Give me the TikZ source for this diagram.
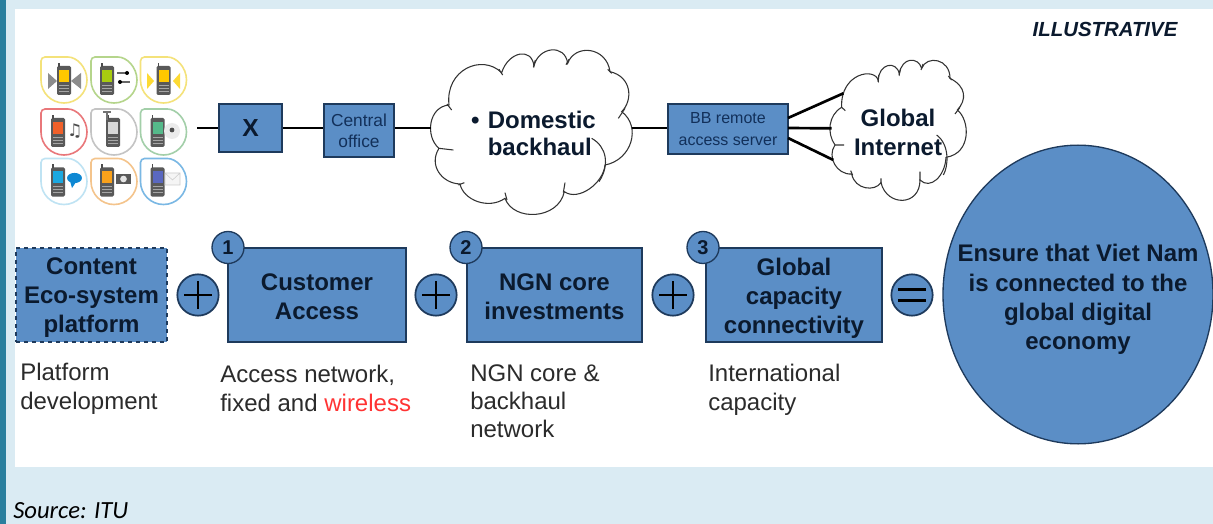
\documentclass[tikz,border=0pt]{standalone}
\usepackage{fontspec}
\setmainfont{Liberation Sans}
\newfontfamily\sourcefont{Carlito}
\newfontfamily\symbfont{DejaVu Sans}
\usetikzlibrary{shapes.geometric}

\definecolor{boxblue}{HTML}{5B8EC6}
\definecolor{boxline}{HTML}{1E3A5C}
\definecolor{boxtext}{HTML}{0B1A2E}
\definecolor{smalltext}{HTML}{12305A}
\definecolor{pagebg}{HTML}{DAEBF3}
\definecolor{pagebar}{HTML}{2A7F9E}
\definecolor{labeltext}{HTML}{2B2B2B}

\tikzset{
  blue box/.style 2 args={draw=boxline,line width=1.3pt,fill=boxblue,inner sep=0pt,align=center,text=boxtext,
    minimum width=#1*0.75pt,minimum height=#2*0.75pt},
  big/.style={align=center,text=boxtext,font=\fontsize{18}{21.5}\selectfont\bfseries},
  wire/.style={line width=2pt,black},
  wolk/.style={draw=black!80,line width=0.8pt},
  sign/.style={circle,draw=boxline,line width=1.3pt,fill=boxblue,minimum size=31pt,inner sep=0pt},
  badge/.style={circle,draw=boxline,line width=1pt,fill=boxblue,minimum size=24pt,inner sep=0pt,text=boxtext,font=\fontsize{15}{15}\selectfont\bfseries},
  note/.style={anchor=north west,inner sep=0pt,align=left,text=labeltext,font=\fontsize{18}{21.3}\selectfont},
  phone body/.style={fill=black!65,rounded corners=1pt}
}

\begin{document}
\begin{tikzpicture}[x=0.75pt,y=-0.75pt]
\useasboundingbox (0,0) rectangle (1213,524);

\fill[pagebg] (0,0) rectangle (1213,524);
\fill[pagebar] (0,0) rectangle (6,524);
\fill[white] (15,9) rectangle (1213,467);

\coordinate (start) at (197,128);
\coordinate (bbup) at (788,118);
\coordinate (bbmid) at (788,128);
\coordinate (bbdown) at (788,138);

% first cloud
\begin{scope}[shift={(425,40)},x=0.25pt,y=-0.25pt]
\coordinate (domin) at (18,264);
\coordinate (domout) at (622,264);
\draw[wolk,fill=white] (72,195) .. controls (60,90) and (170,40) .. (230,98)
  .. controls (250,35) and (320,20) .. (327,78)
  .. controls (340,20) and (420,10) .. (428,70)
  .. controls (450,10) and (545,20) .. (555,95)
  .. controls (620,110) and (625,180) .. (590,215)
  .. controls (650,260) and (620,360) .. (540,375)
  .. controls (535,430) and (460,485) .. (418,455)
  .. controls (400,540) and (265,545) .. (240,475)
  .. controls (190,510) and (115,480) .. (105,432)
  .. controls (50,430) and (10,375) .. (42,325)
  .. controls (0,290) and (10,200) .. cycle;
\end{scope}

% second cloud
\begin{scope}[shift={(780,50)},x=0.25pt,y=-0.25pt]
\coordinate (netup) at (190,130);
\coordinate (netmid) at (155,235);
\coordinate (netdown) at (160,330);
\draw[wolk,fill=white] (295,92) .. controls (295,40) and (350,30) .. (358,72)
  .. controls (365,20) and (415,20) .. (425,55)
  .. controls (440,15) and (510,25) .. (510,85)
  .. controls (560,110) and (560,150) .. (532,180)
  .. controls (570,210) and (575,310) .. (498,322)
  .. controls (495,380) and (450,420) .. (420,390)
  .. controls (420,470) and (320,470) .. (303,398)
  .. controls (285,425) and (225,420) .. (215,372)
  .. controls (170,375) and (140,320) .. (165,285)
  .. controls (140,250) and (145,195) .. (185,172)
  .. controls (180,70) and (285,50) .. cycle;
\end{scope}

% top row
\node[blue box={63}{48},font=\fontsize{18.5}{22}\selectfont\bfseries] (xbox) at (250.5,128) {X};
\node[blue box={70}{53},text=smalltext,font=\fontsize{13}{16}\selectfont] (central) at (359,130.5) {Central\\office};
\node[blue box={120}{50},text=smalltext,font=\fontsize{12}{16}\selectfont] (bbserver) at (728,129) {BB remote\\access server};

\node[font=\fontsize{18}{20.5}\selectfont\bfseries,align=left,text=boxtext] (domtext) at (533.5,133.5) {\makebox[12.5pt][l]{\textbullet}Domestic\\\hspace*{12.5pt}backhaul};
\node[big] (nettext) at (898,132.5) {Global\\Internet};
\node[font=\fontsize{15.3}{18}\selectfont\bfseries\itshape,text=boxtext] (tag) at (1105,29) {ILLUSTRATIVE};

\draw[wire] (start) -- (xbox.west);
\draw[wire] (xbox.east) -- (xbox.east -| central.west);
\draw[wire] (xbox.east -| central.east) -- (domin);
\draw[wire] (domout) -- (domout -| bbserver.west);
\draw[wire] (bbup) -- (netup);
\draw[wire] (bbmid) -- (netmid);
\draw[wire] (bbdown) -- (netdown);

% inner strokes of the clouds, they run over the text
\begin{scope}[shift={(425,40)},x=0.25pt,y=-0.25pt]
\draw[wolk] (500,295) .. controls (545,320) and (555,375) .. (522,425);
\draw[wolk] (66,192) -- (80,210) (222,88) -- (233,105) (331,60) -- (325,82) (432,58) -- (423,74)
  (548,88) -- (560,100) (600,205) -- (580,235) (240,458) -- (246,480) (420,428) -- (415,458)
  (118,428) -- (100,435) (42,325) -- (85,330);
\end{scope}
\begin{scope}[shift={(780,50)},x=0.25pt,y=-0.25pt]
\draw[wolk] (470,255) .. controls (510,285) and (505,350) .. (490,375);
\draw[wolk] (296,75) -- (294,96) (362,55) -- (357,76) (429,42) -- (423,60) (505,78) -- (515,90)
  (540,172) -- (525,192) (165,285) -- (192,285) (185,172) -- (196,182)
  (212,362) -- (218,376) (303,385) -- (303,402) (420,365) -- (420,392);
\end{scope}

% bottom row
\node[blue box={151}{94},dashed] (content) at (91.5,295) {};
\node[blue box={178}{94}] (access) at (317,295) {};
\node[blue box={175}{94}] (ngn) at (554.5,295) {};
\node[blue box={176}{94}] (capacity) at (794,295) {};

\node[big,yshift=-2.25pt,font=\fontsize{18}{21.75}\selectfont\bfseries] (contenttext) at (content) {Content\\Eco-system\\platform};
\node[big,yshift=-1.5pt] (accesstext) at (access) {Customer\\Access};
\node[big,yshift=-1.5pt] (ngntext) at (ngn) {NGN core\\investments};
\node[big,yshift=-2.25pt,font=\fontsize{18}{21.75}\selectfont\bfseries] (capacitytext) at (capacity) {Global\\capacity\\connectivity};

\node[badge] (one) at (228,247.5) {1};
\node[badge] (two) at (466,247.5) {2};
\node[badge] (three) at (703,247.5) {3};

\node[sign] (plusa) at (198,295) {};
\node[sign] (plusb) at (436,295) {};
\node[sign] (plusc) at (673,295) {};
\node[sign] (equal) at (912,295) {};

\foreach \point in {plusa,plusb,plusc}
\draw[line width=2.2pt,black] ([xshift=-10.5pt]\point.center) -- ([xshift=10.5pt]\point.center) ([yshift=-10.5pt]\point.center) -- ([yshift=10.5pt]\point.center);
\draw[line width=2pt,black] ([xshift=-10.5pt,yshift=-4pt]equal.center) -- ([xshift=10.5pt,yshift=-4pt]equal.center) ([xshift=-10.5pt,yshift=4pt]equal.center) -- ([xshift=10.5pt,yshift=4pt]equal.center);

\node[ellipse,draw=boxline,line width=1pt,fill=boxblue,minimum width=202.5pt,minimum height=224pt,inner sep=0pt] (goal) at (1078,294.5) {};
\node[big,font=\fontsize{18}{22}\selectfont\bfseries] (goaltext) at (1078,299.5) {Ensure that Viet Nam\\is connected to the\\global digital\\economy};

\node[note] (plat) at (20,363) {Platform\\development};
\node[note] (acc) at (220,365) {Access network,\\fixed and \textcolor{red!80!white}{wireless}};
\node[note] (core) at (470,364) {NGN core \&\\backhaul\\network};
\node[note] (intl) at (708,364) {International\\capacity};

\node[anchor=west,inner sep=0pt,font=\sourcefont\fontsize{18.5}{20}\selectfont\itshape,text=black] (source) at (13,511) {Source: ITU};

% handsets
\foreach \x/\y/\edge/\screen/\shift in {
  64/80/F4E27A/FFC800/0, 114/80/B5D58B/A8CC10/-7, 163.5/80/F4E27A/FFC800/0,
  64/132/E9777A/F0602A/-6, 114/132/C4C4C4/D8D8D8/-1, 163.5/132/A3CFA9/55B98A/-6,
  64/181.5/BFE3F3/1CA8E0/-6, 114/181.5/F4C48C/F9A11B/-7, 163.5/181.5/7AB8E4/5A68C0/-6}
{
\definecolor{edgecol}{HTML}{\edge}
\definecolor{screencol}{HTML}{\screen}
\draw[edgecol,line width=1.2pt,fill=white,rounded corners=3pt] (\x-23,\y-23) -- (\x,\y-23)
  {[sharp corners] arc (-90:180:23)} -- cycle;
\fill[phone body] (\x+\shift-7,\y-14) rectangle (\x+\shift+7,\y+15);
\draw[black!70,line width=1pt] (\x+\shift-5,\y-13) -- (\x+\shift-5,\y-17);
\fill[screencol] (\x+\shift-5,\y-10) rectangle (\x+\shift+5,\y+2);
\foreach \r in {5,8,11}
\draw[black!35,line width=0.5pt] (\x+\shift-5,\y+\r) -- (\x+\shift+5,\y+\r);
}

\fill[black!45] (57,81) -- (48,73) -- (48,89) -- cycle (71,81) -- (81,73) -- (81,89) -- cycle;
\draw[black!60,line width=0.8pt] (117,73) -- (129,73) (119,82) -- (130,82);
\fill[black] (127,73) circle (1.5pt) (120,82) circle (1.5pt);
\fill[yellow!70!orange!80] (154,81) -- (147,73) -- (147,89) -- cycle (173,81) -- (180,73) -- (180,89) -- cycle;
\node[font=\symbfont\fontsize{13}{13}\selectfont,inner sep=0pt,text=black!70] (music) at (75,131) {\symbol{"266B}};
\draw[black!55,line width=1pt] (107,120) -- (107,112) (103,112) -- (111,112);
\fill[black!8] (172,131) circle (6pt);
\fill[black!70] (172,130) circle (1.8pt);
\fill[cyan!70!blue] (74.5,178) ellipse (5.6pt and 3.8pt) (70,181) -- (72,188) -- (76,182) -- cycle;
\fill[black!65] (116,174) rectangle (131,184);
\fill[black!10] (123.5,179) circle (2.5pt);
\draw[black!20,fill=black!4] (165,173) rectangle (180,185) (165,173) -- (172.5,180) -- (180,173);
\end{tikzpicture}
\end{document}
